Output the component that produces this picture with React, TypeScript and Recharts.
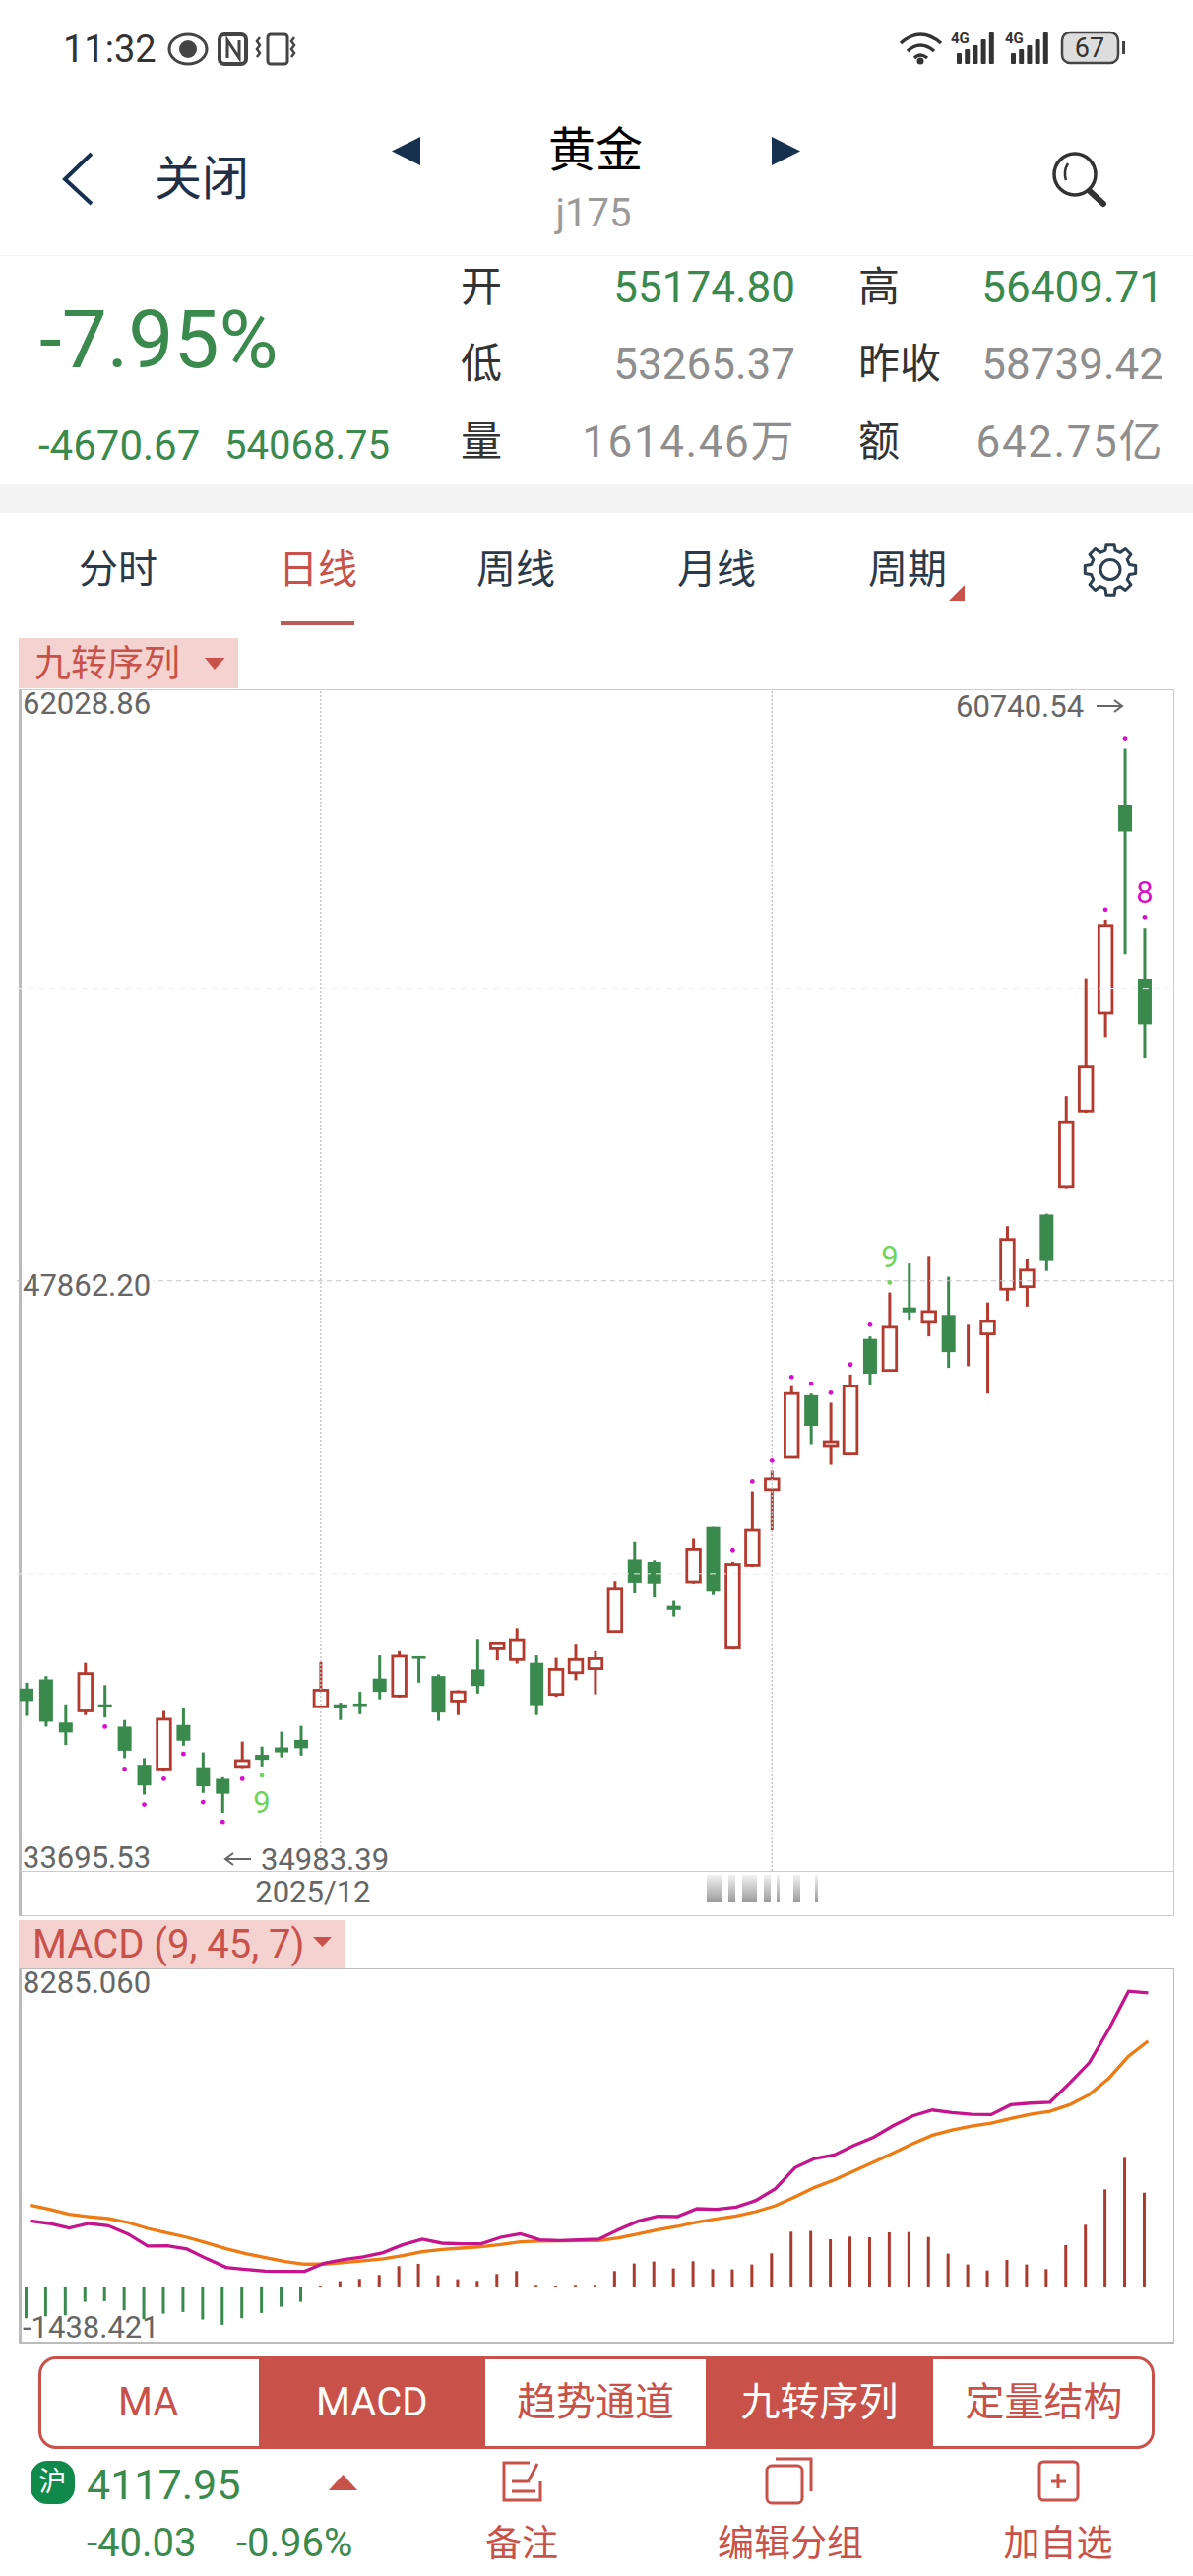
import React from "react";
import { Bar, Cell, ComposedChart, Line, ReferenceDot, ReferenceLine, XAxis, YAxis } from "recharts";

const RED = "#B23A2E";
const GREEN = "#3A8A4E";
const ACCENT = "#C8524A";
const MAGENTA = "#D60FCB";
const LIME = "#6FD35A";

const latin = "Roboto, 'Noto Sans CJK SC', sans-serif";

const opens = [37992,38213,37170,37451,37611,37070,36147,36047,37110,36087,35806,36107,36388,36568,36749,37551,37611,37631,38233,37812,38775,38293,37691,38454,38955,38694,38614,37852,38374,38474,39377,41122,41062,39998,40560,41904,38975,40981,42807,43589,45094,43890,43669,46458,45695,47220,46859,47039,46317,46578,47661,47721,49467,50149,51974,54341,59376,55174.8];
const highs = [38133,38293,37611,38614,38073,37230,36307,37451,37511,36448,35846,36709,36588,36949,37090,38634,37651,37912,38795,38895,38775,38333,37952,39196,39096,39457,38795,38735,39056,38895,40580,41543,41102,40119,41623,41904,41062,42767,43268,45314,45134,44913,45595,46518,47581,48283,48444,47962,46799,47340,49186,48383,49487,52335,55184,56608,60740.54,56409.71];
const lows = [37330,37070,36628,37350,37290,36307,35425,36006,36608,35465,34983.39,36067,36107,36327,36368,37511,37230,37371,37732,37772,38133,37210,37350,37872,38674,38594,37350,37792,38193,37852,39356,40299,40199,39738,40520,40259,38935,40941,41824,43569,43910,43409,43649,45354,45675,46899,46518,45756,45796,45134,47380,47240,48103,50109,51934,53760,55766,53265.37];
const closes = [37691,37190,36929,38353,37551,36488,35645,37250,36729,35625,35445,36247,36267,36448,36548,37952,37511,37571,37912,38775,38715,37411,37912,38053,39076,39176,37591,38454,38694,38715,40400,40540,40520,39898,41362,40339,41001,41824,43068,45134,44351,43970,45314,45615,46739,47100,47120,46137,46317,46879,48865,48123,48343,51713,53037,56468,58739.42,54068.75];

const difLine = [1734,1666,1546,1666,1606,1393,1077,1085,1000,752,521,470,427,419,419,632,726,795,906,1111,1256,1153,1136,1136,1307,1401,1239,1222,1239,1256,1504,1726,1854,1845,2051,2033,2093,2264,2572,3119,3358,3452,3700,3913,4212,4469,4622,4554,4511,4503,4759,4802,4827,5323,5853,6733,7715,7673];
const deaLine = [2145,2033,1905,1845,1794,1692,1538,1418,1307,1162,1008,880,778,675,607,607,649,692,743,829,931,991,1025,1059,1119,1188,1205,1213,1222,1222,1290,1393,1504,1589,1700,1786,1863,1974,2127,2358,2606,2802,3033,3264,3503,3742,3964,4101,4204,4281,4400,4511,4588,4759,5024,5451,6024,6417];
const histogram = [-803,-752,-726,-376,-359,-598,-829,-684,-641,-837,-974,-803,-666,-504,-376,51,162,222,325,555,615,316,214,171,350,427,68,51,68,68,427,624,675,496,684,478,470,598,889,1452,1470,1256,1324,1307,1435,1444,1316,880,598,444,718,598,478,1102,1632,2555,3375,2469];

// nine-turn markers: candle index -> price of the dot
const magentaDots: Record<number, number> = { 4: 37070, 5: 36047, 6: 35184, 7: 35806, 8: 36408, 9: 35244, 10: 34763, 11: 35806, 36: 41342, 37: 43007, 38: 43509, 39: 45535, 40: 45374, 41: 45154, 42: 45836, 43: 46799, 55: 56849, 56: 61001, 57: 56668 };
const limeDots: Record<number, number> = { 12: 35886, 44: 47822 };
const sequenceLabels = [
  { day: 12, price: 35244, text: "9", color: LIME },
  { day: 44, price: 48444, text: "9", color: LIME },
  { day: 57, price: 57270, text: "8", color: MAGENTA },
];

const priceTicks = [33695.53, 47862.2, 62028.86];
const priceGrid = [40778.87, 54945.53];
const macdTicks = [-1438.421, 8285.06];
const monthTicks = [15];
const splitDays = [15, 38];

const candles = opens.map((open, i) => ({
  day: i,
  open,
  high: highs[i],
  low: lows[i],
  close: closes[i],
  magenta: magentaDots[i] ?? null,
  lime: limeDots[i] ?? null,
}));

const macdRows = histogram.map((hist, i) => ({ day: i, hist, dif: difLine[i], dea: deaLine[i] }));

const statRows = [
  { label: "开", value: "55174.80", color: GREEN, spacing: 0, label2: "高", value2: "56409.71", y: 292 },
  { label: "低", value: "53265.37", color: "#8E8E8E", spacing: 0, label2: "昨收", value2: "58739.42", y: 370 },
  { label: "量", value: "1614.46万", color: "#8E8E8E", spacing: 1.6, label2: "额", value2: "642.75亿", y: 449 },
];
const periodTabs = [
  { text: "分时", x: 120, active: false },
  { text: "日线", x: 323, active: true },
  { text: "周线", x: 524, active: false },
  { text: "月线", x: 728, active: false },
  { text: "周期", x: 922, active: false },
];
const indicatorTabs = [
  { text: "MA", x: 38.6, w: 224, on: false },
  { text: "MACD", x: 262.6, w: 230.4, on: true },
  { text: "趋势通道", x: 493, w: 224, on: false },
  { text: "九转序列", x: 717, w: 231, on: true },
  { text: "定量结构", x: 948, w: 225, on: false },
];
const blurBlocks = [[718, 15], [740, 7], [754, 15], [776, 7], [789, 3], [806, 7], [828, 3]];

function T({ x, right, cx, y, size, color, spacing, children }: any) {
  const style: React.CSSProperties = {
    position: "absolute",
    top: y,
    fontFamily: latin,
    fontSize: size,
    color,
    letterSpacing: spacing ?? 0,
    lineHeight: 1,
    whiteSpace: "nowrap",
    transform: cx !== undefined ? "translate(-50%,-50%)" : "translateY(-50%)",
  };
  if (x !== undefined) style.left = x;
  if (right !== undefined) style.right = right;
  if (cx !== undefined) style.left = cx;
  return <div style={style}>{children}</div>;
}

function Candle(props: any) {
  const { x, y, width, height, payload } = props;
  const { open, high, low, close } = payload;
  const perPrice = height / (high - low);
  const mid = x + width / 2;
  const up = close >= open;
  const color = up ? RED : GREEN;
  const bodyTop = y + (high - Math.max(open, close)) * perPrice;
  const bodyBottom = y + (high - Math.min(open, close)) * perPrice;
  const noBody = open === close;
  return (
    <g>
      <line x1={mid} x2={mid} y1={y} y2={y + height} stroke={color} strokeWidth={3} />
      {noBody ? null : up ? (
        <rect x={x + 0.2} y={bodyTop} width={width - 0.4} height={Math.max(bodyBottom - bodyTop, 4)} fill="#fff" stroke={color} strokeWidth={2.8} />
      ) : (
        <rect x={x} y={bodyTop} width={width} height={Math.max(bodyBottom - bodyTop, 2.6)} fill={color} />
      )}
    </g>
  );
}

function markDot(color: string) {
  return (p: any) => {
    if (p.value == null || p.cy == null) return <g key={p.index} />;
    return <circle key={p.index} cx={p.cx} cy={p.cy} r={2.4} fill={color} />;
  };
}

function priceTick(shift: (v: number) => number, digits: number) {
  return (p: any) => {
    const v = p.payload.value;
    const y = p.y + shift(v);
    return (
      <g>
        {v === 47862.2 ? <rect x={22} y={y - 6} width={134} height={12} fill="#fff" /> : null}
        <text x={23} y={y} dominantBaseline="central" fontFamily={latin} fontSize={31} fill="#666">
          {v.toFixed(digits)}
        </text>
      </g>
    );
  };
}

function MonthTick(p: any) {
  return (
    <text x={p.x - 8} y={1921 - 700} textAnchor="middle" dominantBaseline="central" fontFamily={latin} fontSize={31} fill="#666">
      2025/12
    </text>
  );
}

function gearPath(cx: number, cy: number, outer: number, inner: number, teeth: number) {
  const pts: string[] = [];
  const step = (Math.PI * 2) / teeth;
  for (let i = 0; i < teeth; i++) {
    const a = i * step - Math.PI / 2;
    [[-0.32, inner], [-0.2, outer], [0.2, outer], [0.32, inner]].forEach(([f, r]) => {
      const t = a + f * step;
      pts.push(`${(cx + r * Math.cos(t)).toFixed(1)} ${(cy + r * Math.sin(t)).toFixed(1)}`);
    });
  }
  return `M${pts.join("L")}Z`;
}

function PageIcons() {
  const navy = "#16304F";
  return (
    <svg width={1212} height={2616} style={{ position: "absolute", left: 0, top: 0 }}>
      {/* status bar */}
      <ellipse cx={191} cy={50} rx={19} ry={15} fill="none" stroke="#444" strokeWidth={3} />
      <circle cx={191} cy={50} r={9} fill="#444" />
      <rect x={223} y={35} width={27} height={30} rx={5} fill="none" stroke="#444" strokeWidth={4} />
      <path d="M231 59V41L243 59V41" fill="none" stroke="#444" strokeWidth={3} />
      <rect x={272} y={35} width={20} height={30} rx={3} fill="none" stroke="#444" strokeWidth={3} />
      <path d="M264 38l-3 4 3 4-3 4 3 4-3 4M299 38l-3 4 3 4-3 4 3 4-3 4" fill="none" stroke="#444" strokeWidth={2.5} />
      <path d="M915 44q20-18 41 0M922 52q13-12 27 0M929 59q6-6 13 0" fill="none" stroke="#333" strokeWidth={3.5} />
      <circle cx={935} cy={62} r={3.5} fill="#333" />
      {[0, 1].map((n) => (
        <g key={n} transform={`translate(${966 + n * 55},0)`}>
          <text x={0} y={44} fontFamily={latin} fontSize={15} fontWeight={700} fill="#333">4G</text>
          {[0, 1, 2, 3, 4].map((b) => (
            <rect key={b} x={6 + b * 8.2} y={[54, 50, 46, 40, 33][b]} width={5} height={[11, 15, 19, 25, 32][b]} fill="#333" rx={1} />
          ))}
        </g>
      ))}
      <rect x={1079} y={33} width={57} height={31} rx={8} fill="#DDD" stroke="#444" strokeWidth={2.5} />
      <rect x={1140} y={42} width={3} height={13} fill="#444" />
      <text x={1107} y={49} textAnchor="middle" dominantBaseline="central" fontFamily={latin} fontSize={27} fill="#333">67</text>

      {/* header */}
      <path d="M93 156L66 182L93 207" fill="none" stroke={navy} strokeWidth={4} />
      <path d="M427 139V168L398 153.5Z" fill={navy} />
      <path d="M784 139V168L813 153.5Z" fill={navy} />
      <circle cx={1092} cy={177} r={21} fill="none" stroke="#333" strokeWidth={3.5} />
      <path d="M1085 166q-5 8-2 17" fill="none" stroke="#333" strokeWidth={2.5} />
      <path d="M1107 194L1121 207" stroke="#333" strokeWidth={6} strokeLinecap="round" />

      {/* settings gear */}
      <g fill="none" stroke="#2C3E50" strokeWidth={3} strokeLinejoin="round">
        <path d={gearPath(1128, 578.5, 26, 20, 8)} />
        <circle cx={1128} cy={578.5} r={10} />
      </g>
      <path d="M980 594V610H964Z" fill={ACCENT} />

      {/* bottom icons */}
      <path d="M334 2529L348.5 2513L363 2529Z" fill={ACCENT} />
      <g fill="none" stroke={ACCENT} strokeWidth={3}>
        <path d="M538 2501H512V2539H549V2520" />
        <path d="M546 2502L536 2521M520 2520H536M520 2530H544" />
        <rect x={779} y={2504} width={36} height={38} rx={5} />
        <path d="M788 2497H824V2530" />
        <rect x={1056} y={2500} width={39} height={39} rx={4} />
        <path d="M1075 2512V2527M1068 2520H1083" />
      </g>
    </svg>
  );
}

export default function App() {
  return (
    <div style={{ position: "absolute", left: 0, top: 0, width: 1212, height: 2616, overflow: "hidden", background: "#fff" }}>
      <PageIcons />

      <T x={64} y={50} size={38} color="#333">11:32</T>
      <T cx={205} y={182} size={48} color="#1F3047">关闭</T>
      <T cx={605} y={153} size={48} color="#000">黄金</T>
      <T cx={603} y={217} size={40} color="#9A9A9A">j175</T>

      <div style={{ position: "absolute", left: 0, top: 259, width: 1212, height: 1, background: "#F3F3F3" }} />
      <T x={40} y={345} size={82} color={GREEN}>-7.95%</T>
      <T x={39} y={453} size={42} color={GREEN}>-4670.67</T>
      <T x={228} y={453} size={40} color={GREEN}>54068.75</T>
      {statRows.map((r) => (
        <React.Fragment key={r.label}>
          <T x={468} y={r.y} size={42} color="#333">{r.label}</T>
          <T right={404} y={r.y} size={44} color={r.color} spacing={r.spacing}>{r.value}</T>
          <T x={872} y={r.y} size={42} color="#333">{r.label2}</T>
          <T right={30} y={r.y} size={44} color={r.color} spacing={r.spacing}>{r.value2}</T>
        </React.Fragment>
      ))}
      <div style={{ position: "absolute", left: 0, top: 492, width: 1212, height: 29, background: "#F4F4F4" }} />

      {periodTabs.map((t) => (
        <T key={t.text} cx={t.x} y={579} size={40} color={t.active ? ACCENT : "#2A3A4A"}>{t.text}</T>
      ))}
      <div style={{ position: "absolute", left: 285, top: 631, width: 75, height: 3.5, background: "#B85C55" }} />

      {/* main panel */}
      <div style={{ position: "absolute", left: 19, top: 648, width: 223, height: 51, background: "#F3D2D0" }} />
      <T x={35} y={674} size={37} color={ACCENT}>九转序列</T>
      <div style={{ position: "absolute", left: 19, top: 700, width: 1174, height: 1246, boxSizing: "border-box", border: "1px solid #CCC", borderLeft: "3px solid #BBB" }} />
      <div style={{ position: "absolute", left: 20, top: 1900, width: 1172, height: 1, background: "#CCC" }} />
      {blurBlocks.map(([x, w], i) => (
        <div key={i} style={{ position: "absolute", left: x, top: 1904, width: w, height: 28, background: "linear-gradient(#F2F2F2,#9A9A9A)" }} />
      ))}

      <div style={{ position: "absolute", left: 0, top: 700 }}>
        <ComposedChart width={1212} height={1246} data={candles} margin={{ top: 0, bottom: 0, left: 16.97, right: 19.6 }}>
          <XAxis dataKey="day" type="category" ticks={monthTicks} interval={0} height={46} axisLine={false} tickLine={false} tick={MonthTick} padding={{ left: 0, right: 19.5 }} />
          <YAxis
            type="number"
            domain={[priceTicks[0], priceTicks[2]]}
            allowDataOverflow
            padding={{ top: 6.5, bottom: 5 }}
            ticks={priceTicks}
            interval={0}
            mirror
            axisLine={false}
            tickLine={false}
            tick={priceTick((v) => (v > 60000 ? 8 : v < 34000 ? -9 : 5), 2)}
          />
          {priceGrid.map((p) => (
            <ReferenceLine key={p} y={p} stroke="#EFEFEF" strokeWidth={1} strokeDasharray="6 5" />
          ))}
          <Bar dataKey={(d: any) => [d.low, d.high]} barSize={14} shape={Candle} isAnimationActive={false} />
          <ReferenceLine y={priceTicks[1]} stroke="#C4C4C4" strokeWidth={1.2} strokeDasharray="5 4" />
          {splitDays.map((d) => (
            <ReferenceLine key={d} x={d} stroke="#C4C4C4" strokeWidth={1.4} strokeDasharray="2 2" />
          ))}
          <Line dataKey="magenta" stroke="none" dot={markDot(MAGENTA)} activeDot={false} legendType="none" isAnimationActive={false} />
          <Line dataKey="lime" stroke="none" dot={markDot(LIME)} activeDot={false} legendType="none" isAnimationActive={false} />
          {sequenceLabels.map((s) => (
            <ReferenceDot
              key={s.day}
              x={s.day}
              y={s.price}
              ifOverflow="visible"
              shape={(p: any) => (
                <text x={p.cx} y={p.cy} textAnchor="middle" dominantBaseline="central" fontFamily={latin} fontSize={31} fill={s.color}>
                  {s.text}
                </text>
              )}
            />
          ))}
        </ComposedChart>
      </div>

      <T x={971} y={717} size={31} color="#666">60740.54</T>
      <T x={265} y={1888} size={31} color="#666">34983.39</T>

      {/* MACD panel */}
      <div style={{ position: "absolute", left: 19, top: 1950, width: 332, height: 49, background: "#F3D2D0" }} />
      <T x={33} y={1975} size={40} color={ACCENT}>MACD (9, 45, 7)</T>
      <div style={{ position: "absolute", left: 19, top: 1999, width: 1174, height: 381, boxSizing: "border-box", border: "1.5px solid #BBB", borderLeftWidth: 3, borderBottomWidth: 2.5 }} />
      <div style={{ position: "absolute", left: 0, top: 1999.5 }}>
        <ComposedChart width={1212} height={379} data={macdRows} margin={{ top: 0, bottom: 0, left: 16.97, right: 35.6 }} barCategoryGap={0}>
          <XAxis xAxisId="bars" dataKey="day" type="category" hide padding={{ left: 0, right: 3.5 }} />
          <XAxis xAxisId="lines" dataKey="day" type="category" hide padding={{ left: 3.5, right: 0 }} />
          <YAxis
            type="number"
            domain={[macdTicks[0], macdTicks[1]]}
            allowDataOverflow
            ticks={macdTicks}
            interval={0}
            mirror
            axisLine={false}
            tickLine={false}
            tick={priceTick((v) => (v > 0 ? 13.5 : -15.5), 3)}
          />
          <Bar xAxisId="bars" dataKey="hist" barSize={3} isAnimationActive={false}>
            {macdRows.map((r) => (
              <Cell key={r.day} fill={r.hist >= 0 ? "#A93A2E" : "#3A8A4E"} />
            ))}
          </Bar>
          <Line xAxisId="lines" dataKey="dea" stroke="#EE7A14" strokeWidth={3.3} dot={false} activeDot={false} isAnimationActive={false} />
          <Line xAxisId="lines" dataKey="dif" stroke="#C4158C" strokeWidth={3.3} dot={false} activeDot={false} isAnimationActive={false} />
        </ComposedChart>
      </div>

      {/* arrows and dropdown carets sit above the panels */}
      <svg width={1212} height={2616} style={{ position: "absolute", left: 0, top: 0, pointerEvents: "none" }}>
        <path d="M1114 717H1140M1132 711L1140 717L1132 723" fill="none" stroke="#666" strokeWidth={2} />
        <path d="M255 1888H229M237 1882L229 1888L237 1894" fill="none" stroke="#666" strokeWidth={2} />
        <path d="M208 668H228.5L218 680Z" fill={ACCENT} />
        <path d="M318 1967H337L327.5 1977Z" fill={ACCENT} />
      </svg>

      {/* indicator buttons */}
      <div style={{ position: "absolute", left: 38.6, top: 2393, width: 1134.4, height: 94, boxSizing: "border-box", border: `3px solid ${ACCENT}`, borderRadius: 18, overflow: "hidden", background: "#fff" }}>
        {indicatorTabs.map((t) => (
          <div key={t.text} style={{ position: "absolute", left: t.x - 41.6, top: 0, width: t.w, height: 88, lineHeight: "88px", textAlign: "center", fontFamily: latin, fontSize: 40, color: t.on ? "#fff" : ACCENT, background: t.on ? ACCENT : "transparent" }}>
            {t.text}
          </div>
        ))}
      </div>

      {/* bottom bar */}
      <div style={{ position: "absolute", left: 31, top: 2499, width: 45, height: 44, borderRadius: 17, background: "#0F8A4A", color: "#fff", fontFamily: latin, fontSize: 28, lineHeight: "44px", textAlign: "center" }}>沪</div>
      <T x={88} y={2523} size={43} color={GREEN}>4117.95</T>
      <T x={88} y={2583} size={40} color={GREEN}>-40.03</T>
      <T x={240} y={2583} size={40} color={GREEN}>-0.96%</T>
      <T cx={530} y={2583} size={37} color={ACCENT}>备注</T>
      <T cx={803} y={2583} size={37} color={ACCENT}>编辑分组</T>
      <T cx={1075} y={2583} size={37} color={ACCENT}>加自选</T>
    </div>
  );
}
